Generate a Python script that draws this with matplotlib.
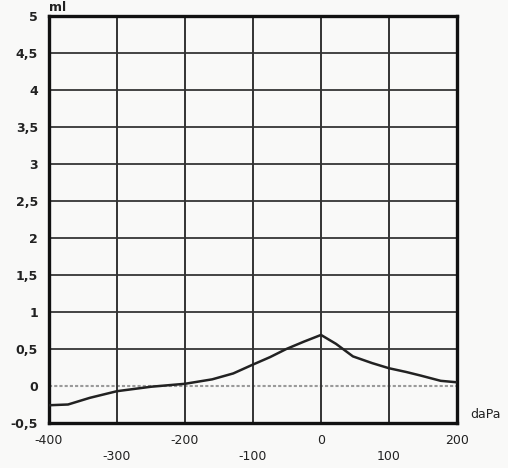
import matplotlib
matplotlib.use("Agg")
import matplotlib.pyplot as plt

# Data
pressure = [-400, -372, -340, -300, -250, -200, -160, -129, -100, -75, -51, -25, 0, 22, 47, 75, 100, 125, 147, 176, 200]
volume = [-0.26, -0.25, -0.16, -0.07, -0.01, 0.03, 0.09, 0.17, 0.29, 0.39, 0.50, 0.60, 0.69, 0.57, 0.40, 0.31, 0.24, 0.19, 0.14, 0.07, 0.05]

xticks_upper = [-400, -200, 0, 200]
xticks_lower = [-300, -100, 100]
yticks = [-0.5, 0, 0.5, 1, 1.5, 2, 2.5, 3, 3.5, 4, 4.5, 5]
ytick_labels = ["-0,5", "0", "0,5", "1", "1,5", "2", "2,5", "3", "3,5", "4", "4,5", "5"]

fig = plt.figure(figsize=(5.08, 4.68), dpi=100)
fig.patch.set_facecolor("#f9f9f8")
ax = fig.add_axes([49/508, 1-423/468, (457-49)/508, (423-16)/468])
ax.set_facecolor("#f9f9f8")
ax.set_xlim(-400, 200)
ax.set_ylim(-0.5, 5)

# grid
for y in yticks[1:-1]:
    if y == 0:
        ax.axhline(y, color="#9a9a9a", lw=1.5, ls=(0, (1.5, 1)), zorder=1)
    else:
        ax.axhline(y, color="#444444", lw=1.4, zorder=1)
for x in xticks_upper[1:-1] + xticks_lower:
    ax.axvline(x, color="#333333", lw=1.4, zorder=1)

ax.plot(pressure, volume, color="#222222", lw=1.8, zorder=3)

for s in ax.spines.values():
    s.set_linewidth(2.4)
    s.set_color("#111111")

ax.set_yticks(yticks)
ax.set_yticklabels(ytick_labels, fontsize=9, fontweight="bold", color="#222222")
ax.tick_params(axis="y", length=0, pad=8)
ax.set_xticks([])

for x in xticks_upper:
    ax.text(x, -0.5 - 0.15, str(x), ha="center", va="top", fontsize=9, color="#222222")
for x in xticks_lower:
    ax.text(x, -0.5 - 0.36, str(x), ha="center", va="top", fontsize=9, color="#222222")

ax.text(-400, 5.03, "ml", ha="left", va="bottom", fontsize=9, fontweight="bold", color="#222222", clip_on=False)
ax.text(470/508, 1-414/468, "daPa", transform=fig.transFigure, ha="left", va="center", fontsize=9, color="#222222")

fig.savefig("out.png", dpi=100, facecolor=fig.get_facecolor())
